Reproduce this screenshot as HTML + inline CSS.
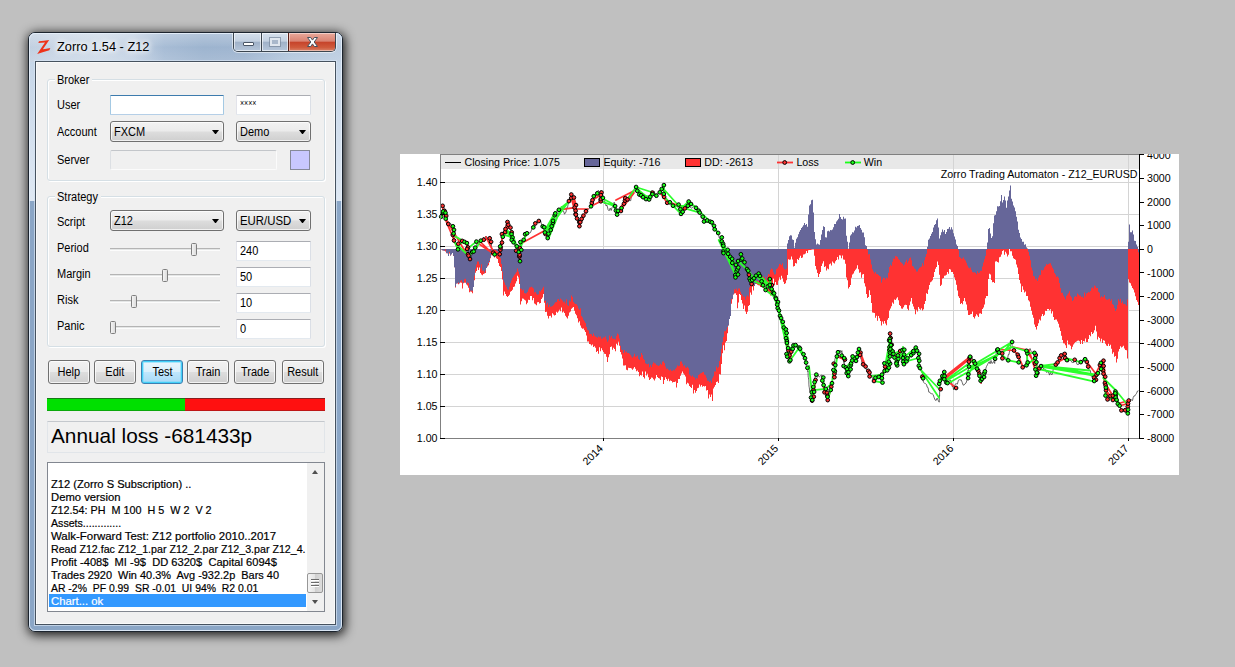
<!DOCTYPE html>
<html><head><meta charset="utf-8"><title>Zorro</title>
<style>
html,body{margin:0;padding:0;}
body{width:1235px;height:667px;background:#c0c0c0;overflow:hidden;position:relative;font-family:"Liberation Sans",sans-serif;}
.abs{position:absolute;}
#shadow{left:28px;top:32px;width:315px;height:600px;border-radius:7px;box-shadow:1px 2px 11px 1px rgba(0,0,0,.9);}
#win{left:28px;top:32px;width:313px;height:598px;border:1px solid #1c242e;border-radius:7px;overflow:hidden;
 background:#8ba6c6;}
#tb{left:29px;top:33px;width:313px;height:29px;border-radius:6px 6px 0 0;background:linear-gradient(90deg,#c2d0e1 0,#c9d6e6 30px,#cedae8 70px,#c3d2e4 105px,#a7bcd5 135px,#9db4cf 175px,#9fb5d0 215px,#b2c6dc 260px,#bccde1 313px);}
#tb:after{content:"";position:absolute;left:0;top:0;right:0;bottom:0;border-radius:6px 6px 0 0;background:linear-gradient(rgba(255,255,255,.25) 0,rgba(255,255,255,.05) 12px,rgba(255,255,255,0) 14px,rgba(255,255,255,.12) 29px);}
#fl,#fr{top:62px;width:6px;height:139px;background:linear-gradient(#c6d6e8,#dfe8f3);}
#fl{left:29px;}#fr{left:336px;}
#winhl{left:29px;top:33px;width:311px;height:596px;border:1px solid rgba(232,241,252,.85);border-radius:6px;}
#clientb{left:34px;top:60px;width:301px;height:564px;border:1px solid rgba(215,228,242,.7);}
#clientc{left:35px;top:61px;width:299px;height:562px;border:1px solid #46525f;background:#f0f0f0;box-shadow:inset 0 0 0 1px #fafafa;}
#client{left:36px;top:62px;width:299px;height:562px;background:#f0f0f0;}
.lbl{position:absolute;font-size:12.5px;color:#000;white-space:pre;transform-origin:0 0;transform:scaleX(.88);line-height:14px;height:14px;}
.gb{position:absolute;border:1px solid #d5dfe5;border-radius:3px;box-shadow:inset 1px 1px 0 #fff, 1px 1px 0 #fff;}
.gbl{position:absolute;background:#f0f0f0;padding:0 2px;}
.edit{position:absolute;background:#fff;border:1px solid #e3e9ef;border-top-color:#abadb3;border-left-color:#e2e3ea;border-right-color:#dbdfe6;box-sizing:border-box;border-radius:1px;}
.edit.focus{border-color:#b5cfe7;border-top-color:#3d7bad;border-left-color:#a4c9e3;border-right-color:#a4c9e3;}
.edit .lbl{left:3px;top:2px;}
.combo{position:absolute;box-sizing:border-box;border:1px solid #707070;border-radius:3px;background:linear-gradient(#f2f2f2 0,#ebebeb 48%,#dddddd 52%,#cfcfcf 100%);box-shadow:inset 0 0 0 1px rgba(255,255,255,.7);}
.combo .lbl{left:3px;top:3px;}
.combo .arr{position:absolute;right:4px;top:8px;width:7px;height:4.4px;background:#000;clip-path:polygon(0 0,100% 0,50% 100%);}
.btn{position:absolute;box-sizing:border-box;border:1px solid #707070;border-radius:3px;height:24px;top:360px;width:42px;background:linear-gradient(#f2f2f2 0,#ebebeb 48%,#dddddd 52%,#cfcfcf 100%);box-shadow:inset 0 0 0 1px rgba(255,255,255,.75);}
.btn.def{border-color:#3c7fb1;background:linear-gradient(#eaf6fd 0,#d9f0fc 48%,#bee6fd 52%,#a7d9f5 100%);box-shadow:inset 0 0 0 1px #42d0f8, inset 0 0 0 2px rgba(120,215,250,.55);}
.btn .lbl{left:0;top:4px;width:100%;text-align:center;transform:none;}
.btn .lbl span{display:inline-block;transform:scaleX(.88);}
.track{position:absolute;left:110px;width:110px;height:1px;background:#b4b4b4;box-shadow:0 1px 0 #e4e6e6,0 2px 0 #fcfcfc;}
.thumb{position:absolute;width:6px;height:13px;box-sizing:border-box;border:1px solid #7f7f7f;border-radius:1.5px;background:linear-gradient(90deg,#f4f4f4,#dcdcdc);}
</style></head>
<body>
<div id="shadow" class="abs"></div>
<div id="win" class="abs"></div>
<div id="tb" class="abs"></div><div id="fl" class="abs"></div><div id="fr" class="abs"></div>
<div id="winhl" class="abs"></div>
<div id="clientb" class="abs"></div><div id="clientc" class="abs"></div>
<svg class="abs" style="left:36px;top:38px" width="17" height="18" viewBox="0 0 17 18"><path d="M3 3.2 C6 2.8 9.5 2.4 13.2 1.9 L6.9 11.3 C9.2 11 11.6 10.5 14.3 10 L13.4 12.3 C9.6 13.4 5.4 14.5 1.2 15.9 L9 4.5 C6.6 4.7 4.2 4.9 2.3 5.1 Z" fill="#ee3219"/></svg>
<div class="abs" style="left:57px;top:39.4px;font-size:12.8px;line-height:15px;white-space:pre;color:#000;text-shadow:0 0 7px #fff,0 0 5px #fff,0 0 9px #fff">Zorro 1.54 - Z12</div>
<div class="abs" style="left:232px;top:33px;width:105px;height:20px;box-sizing:border-box;border:1px solid rgba(255,255,255,.55);border-top:none;border-radius:0 0 6px 6px"></div>
<div class="abs" style="left:233px;top:33px;width:103px;height:19px;box-sizing:border-box;border:1px solid #3c4650;border-top:none;border-radius:0 0 5px 5px;overflow:hidden">
<div class="abs" style="left:0;top:0;width:27px;height:18px;background:linear-gradient(#d6e0ec 0,#c3d0e0 46%,#9fb1c8 50%,#b6c6da 100%);box-shadow:inset 0 0 0 1px rgba(255,255,255,.6)"></div>
<div class="abs" style="left:27px;top:0;width:1px;height:18px;background:#3c4650"></div>
<div class="abs" style="left:28px;top:0;width:26px;height:18px;background:linear-gradient(#d6e0ec 0,#c3d0e0 46%,#9fb1c8 50%,#b6c6da 100%);box-shadow:inset 0 0 0 1px rgba(255,255,255,.6)"></div>
<div class="abs" style="left:54px;top:0;width:1px;height:18px;background:#5a2018"></div>
<div class="abs" style="left:55px;top:0;width:47px;height:18px;background:linear-gradient(#e9a99b 0,#d98372 46%,#c6432a 50%,#cf5a3c 80%,#d9846a 100%);box-shadow:inset 0 0 0 1px rgba(255,255,255,.45)"></div>
<div class="abs" style="left:9px;top:9px;width:11px;height:4px;box-sizing:border-box;border:1px solid #4a5666;background:#fff;border-radius:1px"></div>
<div class="abs" style="left:36px;top:4.5px;width:10px;height:8px;box-sizing:border-box;border:2px solid #dfe6ee;background:#a9b8cb;outline:1px solid rgba(120,135,155,.7)"></div>
<svg class="abs" style="left:72px;top:3px" width="13" height="12" viewBox="0 0 13 12"><path d="M1.5 1.5h3.2l1.8 2.6 1.8-2.6h3.2L8.2 6l3.3 4.5H8.3L6.5 7.9 4.7 10.5H1.5L4.8 6z" fill="#fff" stroke="#47505c" stroke-width="1" stroke-linejoin="round"/></svg>
</div>
<div class="gb" style="left:47px;top:79px;width:276px;height:100px"></div>
<div class="gbl" style="left:55px;top:73px;width:33px;height:14px"></div><div class="lbl" style="left:57px;top:73px;">Broker</div>
<div class="lbl" style="left:57px;top:98px;">User</div>
<div class="lbl" style="left:57px;top:125px;">Account</div>
<div class="lbl" style="left:57px;top:153px;">Server</div>
<div class="edit focus" style="left:110px;top:95px;width:114px;height:20px"></div>
<div class="edit" style="left:236px;top:95px;width:75px;height:20px"><div class="lbl" style="font-size:9px;top:0px;left:3px;transform:scaleX(.78)">××××</div></div>
<div class="combo" style="left:110px;top:121px;width:114px;height:21px"><div class="lbl">FXCM</div><div class="arr"></div></div>
<div class="combo" style="left:236px;top:121px;width:75px;height:21px"><div class="lbl">Demo</div><div class="arr"></div></div>
<div class="edit" style="left:110px;top:150px;width:167px;height:20px;background:#f0f0f0;border-color:#fbfbfb;border-top-color:#c3c6ca;border-left-color:#dcdfe3;border-radius:2px"></div>
<div class="abs" style="left:290px;top:150px;width:20px;height:20px;box-sizing:border-box;border:1px solid #868a9a;background:#c8c8ff"></div>
<div class="gb" style="left:47px;top:196px;width:276px;height:149px"></div>
<div class="gbl" style="left:55px;top:190px;width:42px;height:14px"></div><div class="lbl" style="left:57px;top:190px;">Strategy</div>
<div class="lbl" style="left:57px;top:215px;">Script</div>
<div class="combo" style="left:110px;top:210px;width:114px;height:21px"><div class="lbl">Z12</div><div class="arr"></div></div>
<div class="combo" style="left:236px;top:210px;width:75px;height:21px"><div class="lbl" style="transform:scaleX(.91)">EUR/USD</div><div class="arr"></div></div>
<div class="lbl" style="left:57px;top:241px;">Period</div>
<div class="track" style="top:248px"></div>
<div class="thumb" style="left:191px;top:243px"></div>
<div class="edit" style="left:236px;top:241px;width:75px;height:20px"><div class="lbl">240</div></div>
<div class="lbl" style="left:57px;top:267px;">Margin</div>
<div class="track" style="top:274px"></div>
<div class="thumb" style="left:162px;top:269px"></div>
<div class="edit" style="left:236px;top:267px;width:75px;height:20px"><div class="lbl">50</div></div>
<div class="lbl" style="left:57px;top:293px;">Risk</div>
<div class="track" style="top:300px"></div>
<div class="thumb" style="left:131px;top:295px"></div>
<div class="edit" style="left:236px;top:293px;width:75px;height:20px"><div class="lbl">10</div></div>
<div class="lbl" style="left:57px;top:319px;">Panic</div>
<div class="track" style="top:326px"></div>
<div class="thumb" style="left:110px;top:321px"></div>
<div class="edit" style="left:236px;top:319px;width:75px;height:20px"><div class="lbl">0</div></div>
<div class="btn" style="left:48px"><div class="lbl"><span>Help</span></div></div>
<div class="btn" style="left:94px"><div class="lbl"><span>Edit</span></div></div>
<div class="btn def" style="left:141px"><div class="lbl"><span>Test</span></div></div>
<div class="btn" style="left:187px"><div class="lbl"><span>Train</span></div></div>
<div class="btn" style="left:234px"><div class="lbl"><span>Trade</span></div></div>
<div class="btn" style="left:282px"><div class="lbl"><span>Result</span></div></div>
<div class="abs" style="left:47px;top:398px;width:138px;height:13px;background:#00e000"></div>
<div class="abs" style="left:185px;top:398px;width:140px;height:13px;background:#ff1010"></div>
<div class="abs" style="left:47px;top:398px;width:278px;height:13px;box-sizing:border-box;border-top:1px solid rgba(40,40,40,.55);border-bottom:1px solid rgba(40,40,40,.3)"></div>
<div class="abs" style="left:47px;top:421px;width:278px;height:32px;box-sizing:border-box;border:1px solid #e1e5e9;border-top-color:#c4c8cd;background:#f0f0f0"></div>
<div class="abs" style="left:51px;top:423px;font-size:20.8px;line-height:26px;white-space:pre;color:#000">Annual loss -681433p</div>
<div class="abs" style="left:47px;top:462px;width:278px;height:150px;box-sizing:border-box;border:1px solid #828790;background:#fff"></div>
<div class="abs" style="left:49px;top:464px;width:257px;height:146px;overflow:hidden">
<div style="position:absolute;left:0;top:0px;width:257px;height:13px;color:#000;"><span style="position:absolute;left:1.6px;top:1px;font-size:11.1px;line-height:13px;white-space:pre;-webkit-text-stroke:.2px currentColor;transform-origin:0 0;transform:scaleX(1.000)"></span></div>
<div style="position:absolute;left:0;top:13px;width:257px;height:13px;color:#000;"><span style="position:absolute;left:1.6px;top:1px;font-size:11.1px;line-height:13px;white-space:pre;-webkit-text-stroke:.2px currentColor;transform-origin:0 0;transform:scaleX(1.003)">Z12 (Zorro S Subscription) ..</span></div>
<div style="position:absolute;left:0;top:26px;width:257px;height:13px;color:#000;"><span style="position:absolute;left:1.6px;top:1px;font-size:11.1px;line-height:13px;white-space:pre;-webkit-text-stroke:.2px currentColor;transform-origin:0 0;transform:scaleX(1.015)">Demo version</span></div>
<div style="position:absolute;left:0;top:39px;width:257px;height:13px;color:#000;"><span style="position:absolute;left:1.6px;top:1px;font-size:11.1px;line-height:13px;white-space:pre;-webkit-text-stroke:.2px currentColor;transform-origin:0 0;transform:scaleX(0.972)">Z12.54: PH  M 100  H 5  W 2  V 2</span></div>
<div style="position:absolute;left:0;top:52px;width:257px;height:13px;color:#000;"><span style="position:absolute;left:1.6px;top:1px;font-size:11.1px;line-height:13px;white-space:pre;-webkit-text-stroke:.2px currentColor;transform-origin:0 0;transform:scaleX(0.956)">Assets.............</span></div>
<div style="position:absolute;left:0;top:65px;width:257px;height:13px;color:#000;"><span style="position:absolute;left:1.6px;top:1px;font-size:11.1px;line-height:13px;white-space:pre;-webkit-text-stroke:.2px currentColor;transform-origin:0 0;transform:scaleX(1.031)">Walk-Forward Test: Z12 portfolio 2010..2017</span></div>
<div style="position:absolute;left:0;top:78px;width:257px;height:13px;color:#000;"><span style="position:absolute;left:1.6px;top:1px;font-size:11.1px;line-height:13px;white-space:pre;-webkit-text-stroke:.2px currentColor;transform-origin:0 0;transform:scaleX(0.960)">Read Z12.fac Z12_1.par Z12_2.par Z12_3.par Z12_4.</span></div>
<div style="position:absolute;left:0;top:91px;width:257px;height:13px;color:#000;"><span style="position:absolute;left:1.6px;top:1px;font-size:11.1px;line-height:13px;white-space:pre;-webkit-text-stroke:.2px currentColor;transform-origin:0 0;transform:scaleX(1.001)">Profit -408$  MI -9$  DD 6320$  Capital 6094$</span></div>
<div style="position:absolute;left:0;top:104px;width:257px;height:13px;color:#000;"><span style="position:absolute;left:1.6px;top:1px;font-size:11.1px;line-height:13px;white-space:pre;-webkit-text-stroke:.2px currentColor;transform-origin:0 0;transform:scaleX(0.986)">Trades 2920  Win 40.3%  Avg -932.2p  Bars 40</span></div>
<div style="position:absolute;left:0;top:117px;width:257px;height:13px;color:#000;"><span style="position:absolute;left:1.6px;top:1px;font-size:11.1px;line-height:13px;white-space:pre;-webkit-text-stroke:.2px currentColor;transform-origin:0 0;transform:scaleX(0.939)">AR -2%  PF 0.99  SR -0.01  UI 94%  R2 0.01</span></div>
<div style="position:absolute;left:0;top:130px;width:257px;height:13px;background:#3399ff;color:#fff;"><span style="position:absolute;left:1.6px;top:1px;font-size:11.1px;line-height:13px;white-space:pre;-webkit-text-stroke:.2px currentColor;transform-origin:0 0;transform:scaleX(1.020)">Chart... ok</span></div>
</div>
<div class="abs" style="left:307px;top:463px;width:17px;height:148px;background:#f0f0f0"></div>
<div class="abs" style="left:312px;top:470px;width:0;height:0;border-left:3.5px solid transparent;border-right:3.5px solid transparent;border-bottom:4px solid #505050"></div>
<div class="abs" style="left:312px;top:600px;width:0;height:0;border-left:3.5px solid transparent;border-right:3.5px solid transparent;border-top:4px solid #505050"></div>
<div class="abs" style="left:307px;top:573px;width:16px;height:20px;box-sizing:border-box;border:1px solid #979797;border-radius:2px;background:linear-gradient(90deg,#f5f5f5,#e2e2e2 50%,#cfcfcf 52%,#dcdcdc)"></div>
<div class="abs" style="left:311px;top:579px;width:8px;height:1px;background:#6a6a6a;box-shadow:0 1px 0 #fff,0 3px 0 #6a6a6a,0 4px 0 #fff,0 6px 0 #6a6a6a,0 7px 0 #fff"></div>
<svg class="abs" style="left:400px;top:154px;will-change:opacity" width="779" height="321" viewBox="400 154 779 321" font-family="Liberation Sans, sans-serif" font-size="10.67">
<rect x="400" y="154" width="779" height="321" fill="#fff"/>
<rect x="441" y="155" width="698" height="14" fill="#e8e8e8"/>
<path d="M441 182.5H1139M441 214.5H1139M441 246.5H1139M441 278.5H1139M441 310.5H1139M441 342.5H1139M441 374.5H1139M441 406.5H1139M603.5 155V438M778.5 155V438M953.5 155V438M1128.5 155V438" stroke="#d4d4d4" stroke-width="1" fill="none"/>
<path d="M440 154.5H1139" stroke="#808080" stroke-width="1"/>
<path d="M441 249V249.4H442V250.3H443V250.6H444V250.8H445V251.6H446V253.2H447V253.2H448V256H449V253.6H450V255.6H451V254.3H452V253H453V256H454V267.3H455V287.4H456V283.4H457V283.3H458V284.3H459V283.3H460V282.4H461V282.8H462V288.5H463V283.2H464V282.8H465V282.8H466V284.3H467V285.5H468V287.8H469V292.2H470V291.4H471V291.8H472V293.3H473V286.9H474V280.3H475V272.7H476V270.9H477V267.4H478V270H479V267.4H480V273H481V274.5H482V275.3H483V274H484V273.4H485V273H486V268.1H487V266.5H488V265.3H489V262.2H490V258.2H491V255.2H492V255.3H493V253.7H494V257.4H495V255.7H496V258.2H497V258.9H498V263.1H499V266H500V267H501V271.1H502V279.6H503V295.6H504V291.4H505V294.1H506V295.9H507V296.9H508V296.1H509V294.8H510V291.8H511V291.1H512V289.8H513V287H514V286.4H515V283.4H516V281.3H517V275.7H518V277.4H519V284.1H520V304.6H521V301.2H522V298.4H523V298.7H524V299.8H525V300.4H526V304.3H527V302.7H528V299.7H529V300.1H530V295.9H531V296H532V300.2H533V298.1H534V303.6H535V304.3H536V305.2H537V302.2H538V302H539V303.6H540V302.9H541V298.9H542V297.4H543V293.9H544V302.7H545V311.9H546V311.7H547V315.8H548V318.5H549V315.9H550V315.8H551V317.6H552V313.3H553V314.6H554V315.4H555V315.1H556V311.8H557V312.8H558V311.5H559V309.8H560V311.2H561V307.5H562V312.5H563V311.6H564V313H565V315.7H566V317.3H567V318.6H568V315.7H569V312.4H570V311.5H571V308.8H572V307.7H573V307H574V310.8H575V313.8H576V315.3H577V318.3H578V322.4H579V321.3H580V325.5H581V327.7H582V328.8H583V328.6H584V330.2H585V332H586V335.4H587V341.4H588V341.6H589V343.9H590V344.3H591V345.4H592V344.5H593V346.9H594V346.3H595V347.7H596V351.9H597V350.9H598V353.8H599V347.3H600V351.2H601V348.3H602V350.3H603V351.9H604V353.7H605V354.1H606V356.8H607V362H608V357.2H609V354.3H610V347.1H611V346.5H612V349.8H613V347.8H614V349H615V351.2H616V343.7H617V345.2H618V341.8H619V345.7H620V352.1H621V354.4H622V358.6H623V365.4H624V365.6H625V365.3H626V369.7H627V370.2H628V367.7H629V368.1H630V368.1H631V368.4H632V369.8H633V368.4H634V367H635V368.8H636V371.2H637V370.4H638V372H639V376.3H640V375H641V375.6H642V371.6H643V376.9H644V378.6H645V371.5H646V375.5H647V373.7H648V377.3H649V380H650V379.1H651V377.4H652V377.7H653V379.2H654V380.6H655V378.6H656V375.1H657V376.9H658V377.9H659V378.6H660V380H661V376.6H662V377H663V384.1H664V379.9H665V377.3H666V379.1H667V380.7H668V378.7H669V381.3H670V380.5H671V381.1H672V382.6H673V382H674V382H675V381.6H676V387.6H677V382.9H678V378.9H679V379H680V375.8H681V373.4H682V371.5H683V373.4H684V374.7H685V376.6H686V384.2H687V382.7H688V383.6H689V385.9H690V386.9H691V387.9H692V384.7H693V393.5H694V389.9H695V392.7H696V391.1H697V388.3H698V387.8H699V384.4H700V386.5H701V385H702V386.8H703V386H704V386.5H705V386.1H706V390.6H707V390.1H708V398.4H709V394.6H710V397.1H711V394.4H712V400.9H713V388.5H714V386.8H715V385H716V382.1H717V381.5H718V383H719V374H720V374.5H721V364H722V353.2H723V345.2H724V350.3H725V342.6H726V341H727V333.3H728V325.4H729V319.1H730V316.1H731V303.8H732V299.3H733V294.4H734V293.5H735V293.3H736V294.9H737V308.3H738V302.5H739V293.9H740V295H741V300H742V303.5H743V309.1H744V305.6H745V311.6H746V313.9H747V311.7H748V306H749V305H750V292.4H751V294.7H752V286.4H753V290.4H754V285.9H755V283.9H756V284.1H757V284.7H758V285.3H759V285.6H760V286.9H761V286.6H762V284.1H763V288.3H764V284.7H765V284.4H766V285.7H767V287.6H768V292.2H769V292.8H770V295.5H771V289.6H772V285.3H773V278.4H774V285.1H775V282.1H776V284.8H777V285H778V280.5H779V277.6H780V279.8H781V275.8H782V278.2H783V281.8H784V284.1H785V283.2H786V280.2H787V275H788V259.2H789V259.8H790V259.4H791V256.6H792V259.4H793V266.5H794V265.9H795V263H796V263.6H797V258.9H798V259.9H799V257.8H800V255.7H801V257.9H802V257.4H803V254.4H804V254.2H805V253.6H806V251H807V253.1H808V250.3H809V250.1H810V249.9H811V249.7H812V249.6H813V249.4H814V255.8H815V265.9H816V269.6H817V273H818V276.9H819V273.9H820V271.9H821V265.9H822V263.6H823V261.3H824V266.9H825V266.3H826V270.6H827V268.4H828V269.3H829V264.2H830V263.4H831V265.5H832V261.5H833V262.7H834V263.5H835V261.3H836V259.9H837V257.1H838V259.5H839V255.3H840V255.5H841V258.3H842V255.5H843V259.4H844V259.7H845V263.8H846V277.5H847V280.2H848V288.5H849V287.1H850V284.9H851V277.8H852V274.6H853V273.4H854V271.3H855V269.7H856V268.5H857V265.2H858V269.3H859V272.7H860V272.2H861V277.7H862V274.5H863V274.1H864V283.2H865V286.6H866V293.9H867V298H868V297.1H869V290.3H870V294.9H871V303H872V312.5H873V312.8H874V313H875V317.8H876V315.7H877V320.8H878V316H879V318.3H880V320.9H881V325.4H882V321.5H883V323.7H884V321.1H885V323.4H886V325.2H887V319.7H888V318H889V310.6H890V308.4H891V306.3H892V302.4H893V303.7H894V299.6H895V300.1H896V298.4H897V297.3H898V300.2H899V305.1H900V306.1H901V308.6H902V308.8H903V307.2H904V305.2H905V304.7H906V305H907V308.7H908V310.2H909V305.3H910V301.5H911V297.9H912V303.7H913V306.5H914V309.3H915V314.3H916V309.7H917V311.5H918V306.9H919V308.7H920V309.8H921V308.2H922V310.6H923V309.3H924V304H925V301H926V293.3H927V294.1H928V289.6H929V285H930V282.3H931V281.5H932V280.2H933V277.1H934V272H935V268.8H936V266.9H937V261.5H938V264.9H939V274.7H940V286H941V284.7H942V278.6H943V278.1H944V275.7H945V275.4H946V274.7H947V272.1H948V273.7H949V268.9H950V269.6H951V272.1H952V272.1H953V274H954V277.5H955V280.3H956V284.8H957V290.4H958V296.3H959V298H960V304.1H961V303H962V304.2H963V300.9H964V298H965V301.5H966V304.4H967V310.2H968V315.1H969V314.9H970V314.3H971V314.1H972V311.5H973V317H974V318.6H975V316.3H976V314.3H977V315.4H978V316.9H979V313.4H980V313.3H981V314H982V308.9H983V307.6H984V304.4H985V298.2H986V296.1H987V295.9H988V279.1H989V273.8H990V274.5H991V279.9H992V282.2H993V282H994V282.9H995V261.5H996V261.2H997V262.1H998V262.6H999V257.3H1000V256.7H1001V254.4H1002V251.1H1003V250.3H1004V254.8H1005V251.7H1006V253.5H1007V256.4H1008V254.7H1009V249.1H1010V251.2H1011V251.3H1012V255.8H1013V258.3H1014V259.1H1015V259.7H1016V264.4H1017V267.4H1018V274.1H1019V279.9H1020V283.4H1021V292.1H1022V286.2H1023V289.8H1024V292.6H1025V291.5H1026V296.1H1027V296H1028V300.2H1029V301.6H1030V306.7H1031V310.7H1032V314.7H1033V317.7H1034V324.6H1035V326.9H1036V329.4H1037V325.9H1038V323.3H1039V319.4H1040V320.6H1041V316.3H1042V314.1H1043V316H1044V314.7H1045V310.8H1046V311H1047V309.1H1048V309.1H1049V310.2H1050V309.3H1051V313.4H1052V311.2H1053V316.9H1054V320.1H1055V319.4H1056V319.5H1057V321.6H1058V323.8H1059V327.5H1060V330.9H1061V335.8H1062V340H1063V343.3H1064V343.6H1065V345.3H1066V347.9H1067V340.5H1068V344.6H1069V344.6H1070V345.7H1071V349.3H1072V346.8H1073V344.6H1074V343.3H1075V342.1H1076V341.6H1077V340.7H1078V340.5H1079V341.3H1080V343.9H1081V340.1H1082V344.1H1083V341H1084V341.5H1085V338.4H1086V341.9H1087V342H1088V338.9H1089V334.9H1090V336.3H1091V331.9H1092V334.1H1093V332.7H1094V330.3H1095V325.7H1096V331.6H1097V339.4H1098V336.7H1099V338.1H1100V341.5H1101V338.8H1102V343H1103V340.3H1104V340.8H1105V343.8H1106V345.4H1107V346.1H1108V343.8H1109V346H1110V344.7H1111V348.8H1112V353.7H1113V352.2H1114V356.8H1115V356H1116V362.4H1117V358.7H1118V351.6H1119V349H1120V346.3H1121V347.6H1122V346.8H1123V345.7H1124V348.6H1125V350.1H1126V350.3H1127V358.6H1128V279.3H1129V282.6H1130V283.2H1131V285.7H1132V288H1133V289.6H1134V292.4H1135V296.2H1136V299.9H1137V301.8H1138V305H1139V249Z" fill="#ff3232"/>
<path d="M441 249V249.4H442V250.3H443V250.6H444V250.8H445V249.3H446V252.9H447V253.2H448V256H449V251.9H450V255.6H451V254.3H452V253H453V255.7H454V267.3H455V286.4H456V283.4H457V283.3H458V282.6H459V283.3H460V281.1H461V280.1H462V282.2H463V282.9H464V279.3H465V278.7H466V284.3H467V282.6H468V282.9H469V288H470V290.8H471V290.5H472V290.8H473V286.9H474V275.5H475V268.8H476V264.5H477V261.5H478V261.6H479V264.5H480V268.4H481V264.2H482V270.7H483V270.4H484V272.5H485V270.6H486V268.1H487V265.4H488V262.9H489V261H490V257.5H491V253.1H492V250.5H493V249.8H494V249.9H495V249.7H496V250.7H497V251.4H498V254.6H499V256.4H500V258.3H501V263.9H502V271.4H503V280.2H504V282.4H505V284.9H506V286.8H507V289.3H508V289.7H509V286.7H510V283H511V280.4H512V278.1H513V276.4H514V274.7H515V273.6H516V272H517V268.6H518V271.5H519V274.6H520V288.5H521V288.7H522V290.5H523V289.6H524V292.9H525V293.6H526V293.3H527V292.1H528V289.5H529V287.6H530V287.2H531V286.8H532V287.4H533V288.5H534V292.6H535V292.1H536V293.7H537V294.7H538V294.2H539V291.1H540V291.5H541V290.1H542V288.6H543V286.7H544V300.9H545V300.6H546V304.7H547V302.7H548V307H549V304.8H550V306.7H551V306.6H552V306.1H553V305.1H554V303.4H555V302.3H556V302H557V299.5H558V298.9H559V301.1H560V298.4H561V299.5H562V300.5H563V302.3H564V301.4H565V303.5H566V299.2H567V304.9H568V306.1H569V300.4H570V301.4H571V295.6H572V297.1H573V302H574V303.3H575V304H576V304.2H577V305.8H578V308.6H579V309.7H580V308.3H581V316.1H582V317.6H583V319.8H584V321.3H585V322.9H586V326.9H587V329.8H588V330.4H589V333.7H590V334.1H591V334.3H592V336H593V333.5H594V335.6H595V336.5H596V337.1H597V337.8H598V336.4H599V337.2H600V336.4H601V338.7H602V338.6H603V337.2H604V337.6H605V336.2H606V339.3H607V341.8H608V340.3H609V335.6H610V337.6H611V335.9H612V338.5H613V338.7H614V338.7H615V339.4H616V336H617V333.5H618V334.6H619V338.6H620V345.7H621V349.5H622V350.1H623V352.9H624V350.1H625V352.3H626V351.4H627V352.9H628V353.1H629V353.7H630V354.7H631V356.6H632V357.8H633V356.3H634V353.8H635V356.8H636V356.4H637V355.6H638V358.9H639V360.1H640V356.9H641V353H642V354.9H643V358.8H644V360H645V363.2H646V364H647V364.2H648V363.7H649V367.3H650V365H651V367.1H652V364.3H653V362.3H654V363.3H655V363.4H656V365H657V365.2H658V366H659V365.3H660V363.8H661V364.8H662V361.7H663V361.2H664V363H665V366.5H666V368.8H667V368.4H668V369.8H669V370.6H670V369.6H671V370.7H672V370.7H673V369.7H674V370.5H675V368.8H676V367.4H677V365.3H678V366.3H679V365.7H680V361.5H681V361.5H682V363.7H683V366.2H684V365.2H685V367.6H686V367.8H687V366.7H688V368.3H689V374.5H690V375.4H691V376.6H692V375.5H693V377.1H694V377.4H695V379.6H696V378H697V378.6H698V375.1H699V374.3H700V373.5H701V373H702V372.2H703V372.1H704V374.6H705V375.3H706V377.8H707V380.7H708V380.7H709V382H710V380.7H711V382.7H712V378.3H713V376.2H714V371.4H715V371.4H716V366.6H717V368.2H718V367.1H719V361H720V356.5H721V349H722V342.2H723V337H724V331.3H725V331.2H726V329.6H727V327H728V325.3H729V319.1H730V316.1H731V299.1H732V298.8H733V294.3H734V289H735V289.7H736V288.6H737V290.7H738V288.5H739V288.6H740V291.8H741V294H742V295.2H743V296.7H744V296.4H745V299.6H746V296.5H747V295.3H748V296.6H749V287.4H750V282.9H751V283.9H752V285.5H753V284H754V285.9H755V283.9H756V281.5H757V280.7H758V281.2H759V281H760V281.7H761V281H762V277H763V276.3H764V279H765V277.3H766V281.8H767V276.7H768V274.1H769V274.5H770V269.7H771V268.5H772V269.2H773V272.3H774V274.4H775V274.3H776V269.1H777V268.3H778V266.6H779V264.1H780V264.3H781V265H782V263.3H783V267.6H784V269.2H785V269.5H786V268.6H787V243.4H788V240H789V236.2H790V235.3H791V235.6H792V239.6H793V240H794V247.7H795V242.8H796V238.8H797V237.2H798V234.3H799V231.7H800V230H801V228H802V226.7H803V225.3H804V223H805V224.9H806V224.1H807V226.7H808V214.4H809V205.5H810V204.2H811V200.3H812V199.8H813V212.6H814V232H815V239.3H816V244.5H817V243.5H818V244.2H819V244.8H820V240H821V234.5H822V230.1H823V226.3H824V226.9H825V237.2H826V237.5H827V231.3H828V230.8H829V231.6H830V230.1H831V230.2H832V229.4H833V227.2H834V223.9H835V223.9H836V221.4H837V220.2H838V218.8H839V214H840V217H841V219.1H842V219.6H843V216.7H844V218.8H845V218.5H846V235.7H847V241.7H848V248.7H849V242.4H850V235.4H851V234.2H852V232.3H853V232.6H854V230.6H855V226.8H856V227.4H857V225.9H858V225.7H859V225.1H860V227.9H861V229.8H862V232.5H863V232.5H864V237.2H865V245.2H866V246H867V249.7H868V254.6H869V253.9H870V259.6H871V264.6H872V269.3H873V271.6H874V273.3H875V272.1H876V273.9H877V273.9H878V274.9H879V276H880V276.6H881V282.4H882V279.4H883V277.7H884V278.1H885V279.5H886V277.6H887V278.2H888V272.8H889V267H890V264.8H891V265.7H892V261.7H893V258.6H894V258.8H895V256.1H896V256.2H897V256.9H898V259H899V260.1H900V262.1H901V262.7H902V263.8H903V265.6H904V264.4H905V262.1H906V259.7H907V262.7H908V260.7H909V258.3H910V257.6H911V260.3H912V266.1H913V266.6H914V268.5H915V269.2H916V271.4H917V271.6H918V269.2H919V267.7H920V267.3H921V266.5H922V263.3H923V265.5H924V260.2H925V257.1H926V253.9H927V246.8H928V239.8H929V238.5H930V235.9H931V233.8H932V232.1H933V227.6H934V224.9H935V224H936V220.2H937V218.4H938V227.6H939V238.4H940V235.2H941V232.2H942V229.4H943V231.8H944V230H945V234.1H946V232H947V229H948V228.7H949V226.9H950V229.5H951V227.2H952V229.5H953V233.3H954V236.5H955V239.6H956V244.5H957V245.9H958V250.2H959V257H960V257.8H961V258.7H962V258.5H963V257.2H964V259.2H965V260.5H966V262.8H967V265.5H968V267.5H969V268.2H970V267.5H971V270.1H972V272H973V272.6H974V272.3H975V273.1H976V274.2H977V271.3H978V273H979V272.4H980V270.8H981V270.8H982V266.6H983V262.4H984V259.3H985V255.9H986V250H987V242.5H988V229H989V228.1H990V233.6H991V238.1H992V236.3H993V223.3H994V215.6H995V214.9H996V211.2H997V206.3H998V206.4H999V206H1000V201.2H1001V195.1H1002V202.4H1003V200H1004V196.4H1005V200.5H1006V207.8H1007V200.4H1008V196.4H1009V190.6H1010V185.4H1011V198.7H1012V201.4H1013V205.5H1014V207.5H1015V211.3H1016V216.7H1017V221.6H1018V229.8H1019V232.9H1020V237.6H1021V238.9H1022V241.8H1023V241.7H1024V244.7H1025V244.3H1026V247.2H1027V248.5H1028V251.8H1029V255.7H1030V260.3H1031V267.4H1032V270.5H1033V276.1H1034V276.6H1035V279.2H1036V278.6H1037V280.9H1038V277.6H1039V275.3H1040V275.1H1041V269.9H1042V270.6H1043V269.8H1044V267.3H1045V266H1046V263.9H1047V264.8H1048V263.9H1049V263.5H1050V263.2H1051V265.6H1052V267.7H1053V269.5H1054V273.1H1055V274.6H1056V276.9H1057V276.3H1058V277.7H1059V283.1H1060V288H1061V292.8H1062V292.8H1063V295.6H1064V297.3H1065V299.3H1066V295.9H1067V294.5H1068V293.3H1069V291.3H1070V295.7H1071V297.2H1072V301H1073V299.7H1074V297.1H1075V295.9H1076V296.8H1077V293.4H1078V294.4H1079V295.5H1080V295.6H1081V297.1H1082V296.4H1083V297.9H1084V292.4H1085V296.2H1086V293.4H1087V293.1H1088V291.9H1089V292.6H1090V290.9H1091V288.2H1092V287.3H1093V288.6H1094V285.4H1095V286.3H1096V287.9H1097V288H1098V291.7H1099V292.7H1100V297.6H1101V296.2H1102V297.2H1103V296.8H1104V295.1H1105V298.6H1106V299.5H1107V299.7H1108V299.3H1109V298.7H1110V301.1H1111V299.3H1112V303.9H1113V305H1114V308H1115V310.9H1116V309H1117V305H1118V299.2H1119V301.2H1120V298.7H1121V303.1H1122V301.6H1123V303.8H1124V304H1125V304.6H1126V305.7H1127V299.6H1128V241.8H1129V224.4H1130V232.3H1131V232.3H1132V230.5H1133V234.6H1134V240.7H1135V241H1136V244.5H1137V246.7H1138V252.2H1139V249Z" fill="#666699"/>
<polyline points="441.5,216.5 441.9,213.9 442.4,210.9 442.8,212.8 443.3,208.6 443.7,206.7 444.2,207.3 444.7,208.5 445.2,212.7 445.6,215.2 445.9,216.5 446.3,216.2 446.7,220.2 447.8,221.3 448.8,223.6 449.9,223.9 451,223.8 452.1,226.1 453.1,227.8 454.2,228.5 454,231 453.9,230.7 453.7,235.5 453.5,236 454.1,239.6 454.6,240.4 455.1,242.6 455.7,242.7 456.2,243.9 456.7,248 457.2,248 458.1,244.7 459.1,243 460.1,242.8 461,240.5 462,242.8 462.9,239.7 463.9,240.8 464.8,240.6 465.8,242.9 466.7,242.1 467.7,244.2 467.9,245 468.1,249.6 468.3,251 468.6,254.7 468.8,254.5 469,257.8 469.2,259.2 470,256.1 470.7,259.2 471.5,256.2 472.2,253 473,252.1 473.7,250.2 474.6,248.4 475.6,248.4 476.6,244.5 477.5,242.7 478.5,244.6 479.5,242.8 480.5,242 481.5,239.6 482.6,241.1 483.6,237.1 484.7,239.4 485.7,236 486.5,237 487.2,237.3 488,239.7 488.8,239.9 489.5,236 489.9,237.2 490.2,239.6 490.6,241.3 491,244.7 491.3,243.9 491.7,248 492.4,249.3 493.2,250.3 493.9,255.1 494.7,255.5 495.6,253 496.5,255.4 497.4,253.5 498.3,254.1 499.2,254 499.5,252.5 499.8,251.3 500.1,247 500.4,245.7 500.7,245 501.2,241.2 501.6,242.8 502.1,237.2 502.5,235 503,234.5 503.6,232.9 504.1,231.5 504.6,231.1 505.2,227.7 506,224 506.7,223.1 507.5,222.5 508.2,222.5 509,225.5 509.7,227.9 510.5,229.3 511.2,231.5 511.4,232.9 511.5,236.8 511.7,237.6 511.8,240.3 512,240.5 512.9,243.6 513.8,241.6 514.7,245.6 515.6,244.3 516.5,245.7 516.9,245.8 517.4,251.6 517.8,250.1 518.2,251.7 518.6,255 519.1,257 519.5,260 519.7,260 519.9,257.5 520.1,253.5 520.2,251.9 520.4,251.2 520.6,249 520.8,246.2 521,243.5 522,242.1 523,238.8 524,239 524.9,236.2 525.9,236.3 526.8,234.3 527.7,232.2 528.7,233 529.6,232.9 530.5,232.6 531.5,230 532.4,227.4 533.3,225.7 534.2,228.1 535.1,225.5 536,224 536.9,221.5 537.9,222.6 538.8,219.5 539.7,219.5 540.5,220.3 541.2,222.9 542,225.6 542.7,228.3 543.5,227.6 544.2,231.5 545.1,233.9 546,234.7 546.9,235.4 547.8,237.6 548.7,238.2 549.1,237.5 549.5,231.9 549.8,231.9 550.2,230 551,229.1 551.7,227.5 552.5,225.5 553.2,223.2 553.6,219.9 554,221.5 554.4,218.9 554.7,214.6 555.1,213.6 555.5,212 556.5,213.1 557.5,208.9 558.5,209 559.5,210.5 560.5,209.3 561.5,206.7 562.2,207.4 563,211.5 563.8,211.7 564.5,214.2 565.2,213.2 566,212 566.8,207.5 567.5,207.5 568.2,204.1 569,202 569.8,200.1 570.5,196.9 571.2,195.2 572,194.7 572.7,195.3 573.5,196.4 574.2,197.7 574.5,197.8 574.7,202.1 575,205.6 575.2,206 575.5,207.1 575.7,209.7 576.1,212.6 576.5,213.4 576.8,214.2 577.2,217.5 577.6,217.5 578,222.3 578.3,222 578.7,225.5 579.5,223.1 580.2,223.8 581,221 581.7,218 582.7,218.2 583.6,216.1 584.6,214.7 585.6,213.8 586.6,213.6 587.5,208.9 588.5,209 589.4,208.5 590.4,204.7 591.3,202.8 592.2,202.2 592.8,201.9 593.4,199.3 593.9,198.7 594.5,195.5 595.5,196.4 596.4,194.4 597.4,191.9 598.3,190.3 599.3,191.9 600.2,191.9 601.2,190.2 601,191.2 600.7,192.3 600.5,194 600.2,196.8 600,201.1 599.7,202.2 600.7,198.9 601.7,198.8 602.7,197.8 603.7,197.7 604.3,200.7 604.9,204 605.4,201.8 606,206 607,205.2 608.1,209.7 609.1,210.8 610.2,208.1 611.2,210.5 612,207.7 612.7,206.4 613.5,203.5 614.2,202.2 614.7,204 615.2,206.4 615.7,207.5 616.2,208.8 616.7,211 617.2,215 618.1,211.9 619,209.9 619.9,210.6 620.8,209.2 621.7,206.7 622.5,203.9 623.2,204.4 624,202.3 624.7,198.8 625.5,197.7 626.5,198.3 627.6,197.5 628.6,201.4 629.7,200.4 630.7,200.7 631.3,196.8 631.9,195.3 632.5,195.7 633.1,192.4 633.7,191 634.6,191 635.5,187.9 636.3,189.5 637.2,187.2 637.8,190.4 638.4,189.2 639,193.3 639.6,193.4 640.2,196.7 641.2,197.8 642.3,198.4 643.4,198.5 644.4,196.2 645.5,195.7 646.5,197.7 647.2,199.6 648,200 649,198.8 650.1,195.4 651.1,194.1 652.2,194.4 653.2,192.5 654.2,191.5 655.1,194.6 656,193.6 657,195.5 657.9,193.1 658.9,192.5 659.8,191.7 660.7,190.2 661.6,190.2 662.5,186.1 663.3,188.2 664.2,186.2 664.3,186.9 664.4,189.1 664.5,192.6 664.5,194.7 664.6,196.3 664.7,197.7 665.6,200.4 666.5,198.3 667.3,199.7 668.2,201.5 669.3,203.1 670.3,202.1 671.4,202.5 672.4,203.7 673.5,205.7 674.5,206.8 675.5,206.9 676.4,206.4 677.4,207.3 678.4,205.2 679,208.5 679.7,208.4 680.4,210.4 681,213.2 681.9,213 682.8,209 683.7,210.3 684.6,206.8 685.5,207.5 686.5,204.2 687.5,204.9 688.5,202 689.5,202.2 690.2,206.1 690.8,207.9 691.5,208.2 692.5,207.7 693.6,206.1 694.6,205.4 695.7,206.8 696.7,206.4 697.5,208.3 698.2,209.3 699,212.7 699.7,213.5 700.7,215.3 701.6,218.1 702.5,216.8 703.5,220.2 704.5,218.4 705.5,219.9 706.5,220.4 707.5,219.4 708.5,221.4 709.5,220.7 710.2,220.3 711,221.6 711.7,223.2 712.6,224.8 713.5,227.5 714.3,229.5 715.2,230 716.3,230.9 717.4,232.8 718.5,234.5 719.2,237.6 720,238.9 720.7,238.2 721.1,240.5 721.5,240.1 721.8,243.4 722.2,246 722.6,247.2 722.9,247.9 723.2,248.6 723.4,254.4 723.7,254 724.6,254.7 725.5,250.1 726.5,250.5 727.4,249.5 728.2,252 728.9,252.6 729.7,255.5 730.8,255.7 731.8,260.8 732.9,263 733.9,263.6 735,266 735.3,266.1 735.6,269.4 735.9,270 736.1,275.7 736.4,273.6 736.7,277.5 736.9,274.7 737.1,274.8 737.4,270.1 737.6,268.1 737.8,266 738,266 738.6,262.3 739.3,261.7 739.9,260.9 740.6,255.7 741.2,255 742,255.7 742.7,260.4 743.5,261 744.2,262.7 745,265.5 745.7,265.8 746.5,268.4 747.2,273.6 748,271.8 748.7,274.4 749.5,278.6 750.2,281.2 751,283.3 751.7,283.5 752.7,281.8 753.6,282.3 754.6,279.1 755.6,276.1 756.6,275.3 757.5,274.8 758.5,272.2 759.2,275.3 760,274.7 760.8,277.1 761.5,280.5 762.4,284.6 763.3,283 764.2,288.2 765.1,288.2 766,291 766.9,287.8 767.8,285.7 768.7,284.6 769.6,284.8 770.5,280.5 770.9,280.8 771.2,285.8 771.6,285.3 772,286.5 772.3,290.9 772.7,291.7 773.7,293.1 774.6,294.5 775.5,297.6 776.5,300 776.9,303.2 777.4,305.2 777.8,305.7 778.3,305 778.7,309 779,312.2 779.2,313.5 779.5,315 780.4,318.6 781.4,320.7 782.3,319.9 783.2,322.5 783.7,326 784.1,327.7 784.6,327.2 785.1,329.6 785.5,331.5 786,334 786.2,335.5 786.4,337.7 786.5,338.7 786.7,341.3 786.9,346.5 787.1,346.8 787.3,348.6 787.5,351.8 787.7,355.1 787.8,356.7 788,356.6 788.2,361.8 788.4,362.1 789,361.4 789.7,360.1 790.3,356.9 791,354.9 791.6,353.1 792.2,348.6 792.9,348.3 793.5,345.5 794.6,345.2 795.6,347.4 796.7,344.5 797.8,346.5 798.8,345.9 799.9,346.8 800.8,350.3 801.6,350.4 802.5,354.7 803.3,356.9 804.1,359.1 805,359.6 805.6,359.9 806.2,365.3 806.9,366.4 807.5,367.2 807.7,370 807.9,372 808,371.3 808.2,377 808.4,377.6 808.6,379.2 808.8,380.8 808.9,384.8 809.1,386.8 809.3,387.6 809.8,391.4 810.2,390.7 810.7,393.5 811.2,395.2 811.7,396.8 812.1,400 812.6,402.9 812.8,398.8 813,400.1 813.2,395.5 813.4,392.8 813.6,390.7 813.8,391.6 814,387.1 814.2,386.2 814.4,383.9 814.6,383.6 814.8,382.2 815,377.3 815.2,376.1 816.2,376.5 817.3,377.4 818.4,375.3 819.4,377 820.5,376 821.5,374.8 822,376 822.5,380.5 823.1,381.2 823.6,381.2 824.1,385 824.6,387.6 825,390.8 825.5,391.6 826,393.7 826.5,395.6 826.9,399.8 827.4,400.3 827.9,399.1 828.4,395.2 828.9,394 829.4,392.1 829.9,392.8 830.4,388.9 831,387.7 831.5,383.2 832.1,384.7 832.6,378.8 833.2,379.2 833.7,376.5 834.3,374.8 834.4,373.6 834.4,370.1 834.5,366.5 834.6,366.2 834.7,365.4 834.7,363 834.8,359.6 835.6,357 836.5,354.5 837.3,354.9 838.1,351.9 839,352.9 840,350 841,352.6 841.9,350.6 842.3,354.8 842.6,354.3 843,356.1 843.4,359.5 843.8,362.5 844.1,361.3 844.5,364.6 845.1,365.6 845.8,367.7 846.4,371.4 847,370.9 847.7,374.4 848.3,376.1 848.7,374.1 849.1,372.8 849.4,368.4 849.8,369.9 850.2,368.1 850.6,364.1 851,363.1 851.3,358.4 851.7,359.5 852.1,355.7 853,356.9 854,358.8 855,360.2 855.9,359.6 856.6,357 857.2,357.4 857.9,352.2 858.5,349.3 859.2,349.4 859.6,351.4 860.1,355.2 860.5,357.2 861,359.4 861.4,359.4 861.9,363.3 862.3,363.4 863.3,364.9 864.3,364.4 865.4,367.8 866.4,369.8 867.4,369.7 868.5,371.3 869.5,374 870.6,374.4 871.7,376.4 872.7,378.9 873.8,381.2 874.8,380.2 875.8,379 876.9,376.3 877.9,374.9 878.9,376.1 879.7,377.1 880.6,380.5 881.4,381.2 881.9,380.2 882.4,375.8 882.8,373.7 883.3,372.8 883.8,369.1 884.2,368.9 884.7,368.1 885.2,364.2 886,364.7 886.7,368.1 887.5,369.5 887.9,368.7 888.4,367 888.8,365 889.3,363.2 889.7,360.5 889.8,357.4 889.8,357.7 889.9,356 890,350 890,351.8 890.1,347.5 890.2,343.8 890.2,341.6 890.3,342.7 890.4,340 890.4,335.6 890.5,335 890.6,337 890.8,339.9 891,343.6 891.1,342.9 891.2,346.9 891.4,346.8 891.6,348.7 891.7,352.2 892.8,352.5 893.9,355.3 895,357.5 895.3,359.8 895.6,360.2 895.9,361.4 896.2,363.5 896.5,366.5 896.9,362.6 897.4,361.1 897.8,359.6 898.2,358.3 898.6,354.9 899.1,354.2 899.5,352.2 900.4,350.6 901.4,351.5 902.3,348 903.2,346.7 903.3,350.8 903.5,350.9 903.6,351.9 903.8,355.9 903.9,356.1 904,358.4 904.2,360.1 904.3,364.2 905.1,363.8 906,363.7 906.9,359.9 907.7,359 908.6,357.8 909.5,357.5 910.4,356.5 911.3,357.4 912.2,356 912.9,353.7 913.5,350.8 914.2,352 914.8,348.9 915.5,346.7 916.4,346.1 917.3,351.4 918.2,351.5 918.3,354.6 918.5,355 918.6,358.3 918.8,361.6 918.9,361.4 919,363.6 919.2,365 919.3,368 920.1,369.4 921,371 921.9,372.4 922.7,372.5 922.7,376.3 922.7,374.5 922.7,377.3 922.7,379.7 923.7,382.4 924.6,383.4 925.5,383.7 926.5,384.5 927.2,387.2 928,387.5 928.8,392.1 929.5,392 930.4,393.3 931.3,393.7 932.2,393.7 933.1,394.5 934,397.2 935,399.9 936.1,400.5 937.1,398.1 938.2,400.4 939.2,402.2 939.3,400.1 939.4,398.2 939.5,395.7 939.6,396.1 939.6,391.7 939.7,390.5 939.8,390.3 939.9,387.1 940,384.5 940.7,382.2 941.4,379.4 942.1,377.4 942.8,376.2 943.5,374.8 944.2,371.3 944.6,372.4 945,375.1 945.5,377.4 945.9,379.5 946.3,384.1 946.7,384.5 947.7,383.5 948.6,381.3 949.5,380.4 950.5,380 951.1,383.4 951.7,382.4 952.3,386.7 952.9,385.7 953.5,389.7 954.5,386.3 955.5,383.8 956.5,383.7 957.4,384.1 958.4,380.3 959.3,379.7 960.2,380 961.2,379.8 962.2,382.4 963.2,385.2 964.2,384.9 965.1,383.6 966,383.1 967,380 967.2,380 967.5,376.2 967.8,375.9 968,370.2 968.2,371.9 968.5,368 968.9,365.7 969.3,362.6 969.8,363.1 970.2,361.6 970.6,357.5 971,356 971.9,355.7 972.8,360.6 973.7,360.5 974.3,363.3 974.9,364.3 975.4,367.6 976,367.2 976.9,366.5 977.9,367.9 978.8,369.5 979.7,372.5 980,372.3 980.2,377.1 980.5,378.7 980.7,378.3 981,380.3 981.2,383.7 981.8,380.4 982.4,380.3 983,378.6 983.6,378 984.2,374 984.8,371.5 985.4,372.4 985.9,368.1 986.5,366.5 987.4,364.8 988.3,363 989.2,361.7 990.1,363.8 991,360.5 991.9,363.4 992.9,362.9 993.8,361.3 994.7,363.5 995,359.9 995.4,357.7 995.7,356.4 996,356 996.3,350.8 996.7,350.8 997,348.5 998,350.3 999,348.4 1000,351.5 1000.9,353.2 1001.7,356.8 1002.6,357.5 1003.6,358.1 1004.6,357.9 1005.5,360.1 1006.5,359.1 1007.5,359 1008,356.2 1008.4,354.4 1008.9,354.8 1009.4,352.3 1009.8,350.5 1010.3,346.9 1010.7,343 1011.2,342.5 1011.7,342.8 1012.2,345.5 1012.7,347.7 1013.6,349.9 1014.5,348.2 1015.4,353.1 1016.3,354.4 1017.2,354.5 1017.8,356.2 1018.4,355.7 1018.9,360.8 1019.5,361.2 1020.4,362.3 1021.4,364.9 1022.3,366 1023.2,367.2 1024.2,367.5 1025.2,365.3 1026.2,365 1026.4,365.1 1026.6,363.1 1026.8,361.1 1027.1,357.8 1027.3,354.5 1027.5,352.9 1027.7,351.5 1028.5,349.5 1029.2,351.3 1030,348.5 1030.9,350.7 1031.8,351.6 1032.8,352.7 1033.7,352.2 1034.5,356.4 1035.2,357 1036,358.2 1036.1,359.6 1036.2,363.7 1036.3,363.6 1036.3,367.3 1036.4,367.5 1036.5,372.7 1036.6,373.3 1036.7,375.5 1037.3,372.6 1037.8,373.6 1038.4,368 1039,368 1039.9,369.2 1040.8,367.8 1041.7,366 1042.7,365.4 1043.6,369 1044.5,369.1 1045.5,369.7 1046.5,372.4 1047.5,371.8 1048.5,372 1049.5,375.1 1050.5,372.3 1051.5,375 1052.4,374.1 1053.3,369.1 1054.2,367.7 1055.1,364.9 1056,364.5 1056.9,364.5 1057.8,360.9 1058.7,360.5 1059.6,356.8 1060.5,356.2 1061.4,356.5 1062.3,355.4 1063.3,352.2 1064.2,353.2 1065,355.2 1065.7,358.3 1066.5,358.2 1067.2,361.5 1068.2,362 1069.1,360.1 1070,360.3 1071,360.7 1071.9,362.4 1072.8,362.4 1073.7,362.5 1074.6,359.8 1075.5,360 1076.2,361.8 1077,364.4 1077.7,364.5 1078.7,364.4 1079.7,361.8 1080.7,360.7 1081.7,361.9 1082.6,359.5 1083.5,361.6 1084.5,359.2 1085.5,360.1 1086.5,359.5 1087.5,362.2 1087.9,365.4 1088.3,364.8 1088.8,369.2 1089.2,370.5 1090.3,370.4 1091.3,376.4 1092.4,376.3 1093.5,378 1094,380.9 1094.5,381.7 1095.2,378.4 1096,379 1096.8,376.1 1097.5,375 1098.4,371.9 1099.3,372.4 1100.2,369 1100.7,365.1 1101.1,365.3 1101.6,361.8 1102,363.3 1102.5,360 1102.6,363.8 1102.6,362.2 1102.7,366.1 1102.7,368.3 1102.8,370.5 1103.1,373.3 1103.4,375.3 1103.7,375.4 1104,378 1104.2,381.8 1104.3,380.4 1104.5,382 1104.7,385.5 1105,388.7 1105.3,387.4 1105.6,389.5 1105.9,392.7 1106.2,394.5 1107,395.5 1107.7,396.5 1108.5,399.7 1109.5,400.4 1110.5,397.1 1111.5,396 1112,398.8 1112.5,397.9 1113,400.5 1113.5,400.2 1114,395.1 1114.5,396 1115,392.6 1115.5,390 1115.9,393.9 1116.3,394.8 1116.7,396 1117.1,397.3 1117.5,399 1118,402.1 1118.5,401.8 1119,403.5 1120,403.7 1121,409.3 1122,409.5 1123,411.3 1124,411.3 1125,411 1126,412.8 1127,411.3 1128,413.2 1127.9,411.2 1127.9,411 1127.8,409.8 1127.8,407.9 1127.7,404.2 1128.3,401.2 1128.9,402 1129.5,399.7 1130.5,400.2 1131.5,399.8 1132.5,400.5 1133.2,397.5 1134,395.9 1134.7,396 1135.7,394.5 1136.6,393.3 1137.5,391 1138.5,390.7" fill="none" stroke="#383838" stroke-width="0.75" stroke-linejoin="round"/>
<path d="M443.2 212.8L442.6 205.8M443.2 212.8L448.3 224M452.9 226.3L454 240.5M452.8 235L462.2 240.9M464.5 241.9L468 247.4M468 247.4L467.1 248.9M468 254.2L468.6 255.7M468.6 255.7L470 259.1M480.8 240.7L489.7 238.3M499.7 254.2L502 242.6M502 242.6L501.9 234.1M505.1 232L507.5 222M505.1 232L508.3 224.8M505.5 229L510.5 227.6M501.9 234.1L511.7 232.3M518.7 252L519.3 256.4M519.3 256.4L519.6 256.1M516.8 246.3L519.6 254.7M520 261.2L519.8 248M573.9 197.5L576 205.1M558.9 209.8L574.6 207.7M571.3 194.5L575.6 210.7M571.3 198L575.6 214.1M575.6 210.7L575.9 214.7M579.3 222.2L583.4 215.7M579.4 226.2L586 211.2M593.8 196.2L601.5 192.5M592.5 200.1L600.8 195.1M591 206.3L600.8 201.3M620.9 211L627.5 199.4M659.8 192.3L667.2 202.8M669.9 202.3L684.9 208.4M767.7 286.4L771.9 285.1M786.9 341.1L788.4 350.3M789.5 361.3L789.4 355.5M790.4 360.1L791.3 351.7M814.1 391.9L813.5 390.2M814.1 391.9L815.5 380M822.3 380.6L824.5 392.3M825.8 388.9L827 392.8M827.7 400.1L831.3 386.7M836.9 356.4L844.9 359.6M857.9 352.6L860.1 354.9M860.5 352.6L863.2 364.4M860.5 352.6L865.6 366.5M869.5 372.5L869.6 376.4M881.9 378.2L885.1 366.6M889.5 347.1L890.6 338M890.9 345.2L891.7 344.7M894.4 357.5L900.2 351M942.9 377.4L956.1 388M969.6 357.8L978.2 370.6M977 368.7L979.4 373.8M1002.2 353.4L1002.4 358.3M997.7 349.4L1014 350.5M1014 350.5L1017.8 354.8M1026.5 350.8L1035.2 363.7M1036.4 362.2L1037.4 373M1059.6 358.1L1064.7 353.9M1057.6 362.4L1065.1 357.9M1085.1 359.2L1088.2 366.6M1086.8 361.8L1096.5 374.7M1094.1 377.6L1099.9 365M1099.9 365L1103.6 366M1101.1 368.9L1103 370.4M1100.9 362.9L1103.5 373.7M1103.5 360.7L1105.2 376.7M1103 370.4L1104.9 383M1103 370.4L1105.6 385.4M1103.5 373.7L1106 390.3M1106 390.3L1110.4 396M1110.4 396L1112.9 400M1104.9 383L1112.9 395.7M1127.8 413.4L1127.8 406.6M1119.6 405.7L1128 403.6M1117.8 403.8L1128.8 400.5M944.5 377L971 356M945 379L971 357.5M1012.7 347L1027 350M621.5 206L633.5 191M623 207L634 193M616 200L633.7 191M446 221L457 247M447 221L469 258M477.5 243L494 254M480.5 242L494 255M486 237L495 255M521 243.5L544 231M575 209L588 209M1017 353L1023.2 367M1104 378L1108 399M1029 350L1036.7 375M979.5 372L981 383" stroke="#ff3232" stroke-width="1.7" fill="none" stroke-linecap="round"/>
<path d="M454 240.5L458 249.4M458.3 243.8L464.5 241.9M452.8 235L466.9 243.1M468.6 255.7L472.2 252M468.6 255.7L473.7 251.5M472.2 252L475.2 247.7M467.1 248.9L476.4 241.6M473.7 251.5L480.8 240.7M505.5 229L511.5 234.1M501.9 234.1L512.5 237.4M505.5 229L511.7 239.9M511.7 232.3L513.5 242.3M511.7 232.3L516.8 246.3M512.5 237.4L518.7 252M516.8 246.3L521.3 249.9M519.6 254.7L520.4 242.1M518.7 252L523.7 239.8M523.7 239.8L527 233.3M544.2 227.2L547.7 238.1M544.2 227.2L548.5 233.7M547.7 238.1L550.7 230M544.9 232.5L551.7 226.2M547.7 238.1L552.9 222.7M544.9 232.5L553 220.8M552.9 222.7L554.8 215.2M593.8 196.2L597.3 193.3M600.8 195.1L602.9 197.9M600.8 201.3L615.1 206.1M617.1 214.6L621.5 208M627.5 199.4L636.1 187M636.1 187L639.3 194.5M636.1 187L641.2 195.3M641.2 195.3L646 199.1M639.3 194.5L650.3 196.8M652.4 194.1L656.4 195.7M663.9 185.1L663.8 193.9M664.1 196.9L669.9 202.3M669.9 202.3L681 213.9M673 205.7L687.9 205.8M680.4 209.2L688.7 201.5M688.7 201.5L696 207.8M684.9 208.4L699.7 212.6M698.7 210.7L710.3 221.7M704 221.5L711.9 222.3M707.2 220.4L714 225.8M710.3 221.7L718.2 233M723.1 243.8L723.3 251.5M723.1 243.8L730.2 256.8M723.4 245.8L732.1 258.8M730.2 256.8L732.3 262.9M732.1 258.8L735.9 264.9M735.3 275.1L737.5 269.5M735.3 275.1L738.3 267.5M742.2 258.5L744.5 262.3M738.1 261L748.2 270.7M750.5 280.7L752.2 280.1M747 269L754 278.3M749.6 278.7L756.1 275.6M750.5 280.7L758.7 273.6M756.1 275.6L760 276M756.1 275.6L761.6 281.3M752.2 280.1L763 285.3M760 276L765.6 290M760 276L767.7 286.4M760 276L769.8 285M769.8 285L769.8 279M769.8 279L771.6 289M767.7 286.4L774.1 293.4M765.6 290L775.7 297.8M769.8 285L776 298.8M776 298.8L778 302M778 302L777.2 304.7M773.1 292.7L777.7 308.2M778 302L779 310.6M777.7 308.2L782.8 321.8M780 315.9L783.8 327.6M781.1 318.1L785.9 329.4M785.9 329.4L786.9 341.1M786 338.2L786.9 343M788.1 348.1L792.7 348.9M788.4 350.3L793.5 345.3M786.5 354L795.6 345.1M789.5 361.3L799.3 347.6M800.1 348.7L803.5 354.2M795.6 345.1L805 358.2M805 358.2L806.1 362.6M811.8 392.2L811 397.6M811 397.6L814.1 391.9M814.1 391.9L813.3 386.9M814.1 391.9L814.6 382.1M823.3 377.5L822.3 380.6M823.3 377.5L823.6 385.1M813.5 390.2L825.8 388.9M827.7 400.1L830.7 390M825.8 388.9L832 383.2M832 383.2L833.4 370M845.9 367.5L846.7 373.1M846.7 373.1L848.5 372.1M848.5 372.1L850.6 369.3M845.9 367.5L850.8 365.3M846.7 373.1L851.1 363.3M845.9 367.5L852.2 360.5M851.1 363.3L852.6 356.4M852.6 356.4L856 360.9M852.6 356.4L857 357M856 360.9L859 349M874 381L878.8 377M874 381L882.5 382.6M875.4 377.8L881.9 378.2M869.6 376.4L882 374.6M885.1 366.6L884.4 363.3M884.4 363.3L887.2 370.3M882 374.6L888.9 367.7M887.2 370.3L890.1 363.6M884.6 371L888.8 361.7M890 352.6L889.5 347.1M889.4 350.1L890.9 345.2M890.9 345.2L889.8 338.9M889.8 338.9L890 341M889.2 340.4L890.4 349.1M890 341L893.4 353.9M892.7 351.4L896.3 363.5M896.3 363.5L898.4 358.8M894.4 357.5L897.9 355.4M893.4 353.9L902.4 350.2M900.2 351L904.3 349.7M897.9 355.4L903 358M904.3 349.7L903.2 361.7M900.2 351L903.9 364.2M903.9 364.2L906.5 361.3M904.1 354.6L907.4 358.3M907.4 358.3L911.2 355.1M911.2 355.1L913.4 351.1M903 358L915.8 347.6M907.4 358.3L917 350.7M906.5 361.3L918.4 358M918.4 358L918.8 365.8M939.9 380.8L944.3 372M939.2 383.8L944.5 376.1M942.4 376L944.3 379.2M944.3 379.2L946.3 382.5M968.4 374.3L975.1 363.6M974 361.3L977 368.7M975.1 363.6L979.5 375.8M977 368.7L980.6 380.7M975.1 363.6L982 379M980.6 380.7L984.1 377M984.1 377L984.3 373.3M980.6 380.7L984.9 371.4M995.1 358.8L999 352.5M999 352.5L1008.2 360.3M1002.2 353.4L1012.1 341.9M1008.2 360.3L1018.7 362.3M1027.7 362.5L1026.5 350.8M1027.3 353.4L1034.5 352.9M1026.5 365.3L1035.1 358.2M1035.8 355.1L1036.4 362.2M1036.4 362.2L1036.9 372.6M1039.3 368.4L1041 366.1M1065.1 357.9L1066.9 360.1M1065.1 357.9L1080.8 362.1M1097.9 373.2L1101.1 368.9M1099.9 365L1100.9 362.9M1104.9 383L1105.5 395.6M1115.8 394.6L1115.4 391.5M1115.8 394.6L1115.3 393.3M1107.5 399.4L1115.7 397.4M1112.9 400L1116.6 399.9M1115.8 394.6L1117.8 403.8M1115.3 393.3L1119.6 405.7M718.7 240L736.7 277.5M719.5 240L736.7 277.5M720.7 239L736.7 277.5M772 289.5L788.4 339M773 289.5L788.4 345M774 291L788.6 355M939.2 389L919 368M939.2 398L922 372M946 380L973 360.5M946 381L1011.2 342.5M947 384L1011.2 347M970 368L1011 347.7M1012.7 347L1027.7 351.5M1041.7 365.2L1097.2 375M1040.5 366.5L1097.2 376M1038.7 369L1094.5 381.7M1041.7 366L1089.5 370.5M1103.2 378L1115.5 390M1115.5 390L1127.2 404.2M555.5 212L548.7 238.2M555.5 212L544.5 231M561.5 207L548.7 238.2M572 197L553 223M572 199L561 208M519.5 256L511.2 231.5M470 257L455 243M637.2 187.5L653 192.5M637.2 189L647 197M664.5 190L678 205M601.5 198L613 204M617 214L613 204M885.5 364L890.3 338M887 368L890.6 340M897 366L903 347M834.5 374L838 352M809 366L812.5 398M1056.5 364L1041 366" stroke="#2cff2c" stroke-width="1.8" fill="none" stroke-linecap="round"/>
<g fill="#ff3232" stroke="#000" stroke-width="1"><circle cx="442.6" cy="205.8" r="1.85"/><circle cx="444.6" cy="211" r="1.85"/><circle cx="446.2" cy="215.9" r="1.85"/><circle cx="448.3" cy="224" r="1.85"/><circle cx="452.8" cy="235" r="1.85"/><circle cx="454" cy="240.5" r="1.85"/><circle cx="458.3" cy="243.8" r="1.85"/><circle cx="462.2" cy="240.9" r="1.85"/><circle cx="468" cy="247.4" r="1.85"/><circle cx="467.1" cy="248.9" r="1.85"/><circle cx="468" cy="254.2" r="1.85"/><circle cx="468.6" cy="255.7" r="1.85"/><circle cx="470" cy="259.1" r="1.85"/><circle cx="483.7" cy="239.7" r="1.85"/><circle cx="489.7" cy="238.3" r="1.85"/><circle cx="491.1" cy="241.8" r="1.85"/><circle cx="493.2" cy="252.7" r="1.85"/><circle cx="499.7" cy="254.2" r="1.85"/><circle cx="500.4" cy="249.8" r="1.85"/><circle cx="500.7" cy="247.5" r="1.85"/><circle cx="502" cy="242.6" r="1.85"/><circle cx="501.9" cy="234.1" r="1.85"/><circle cx="505.1" cy="232" r="1.85"/><circle cx="505.5" cy="229" r="1.85"/><circle cx="507.5" cy="222" r="1.85"/><circle cx="508.3" cy="224.8" r="1.85"/><circle cx="510.5" cy="227.6" r="1.85"/><circle cx="511.7" cy="232.3" r="1.85"/><circle cx="516.1" cy="250.7" r="1.85"/><circle cx="519.3" cy="256.4" r="1.85"/><circle cx="519.6" cy="256.1" r="1.85"/><circle cx="519.6" cy="254.7" r="1.85"/><circle cx="519.8" cy="248" r="1.85"/><circle cx="535.3" cy="223.4" r="1.85"/><circle cx="538.8" cy="221" r="1.85"/><circle cx="545.5" cy="234.1" r="1.85"/><circle cx="568.9" cy="201.1" r="1.85"/><circle cx="571.3" cy="198" r="1.85"/><circle cx="571.3" cy="194.5" r="1.85"/><circle cx="573.9" cy="197.5" r="1.85"/><circle cx="576" cy="205.1" r="1.85"/><circle cx="574.6" cy="207.7" r="1.85"/><circle cx="575.6" cy="210.7" r="1.85"/><circle cx="575.6" cy="214.1" r="1.85"/><circle cx="575.9" cy="214.7" r="1.85"/><circle cx="577" cy="218.5" r="1.85"/><circle cx="579.3" cy="222.2" r="1.85"/><circle cx="579.4" cy="226.2" r="1.85"/><circle cx="580.3" cy="222.1" r="1.85"/><circle cx="581.6" cy="218.9" r="1.85"/><circle cx="583.4" cy="215.7" r="1.85"/><circle cx="586" cy="211.2" r="1.85"/><circle cx="591.8" cy="202.9" r="1.85"/><circle cx="592.5" cy="200.1" r="1.85"/><circle cx="601.5" cy="192.5" r="1.85"/><circle cx="600.8" cy="195.1" r="1.85"/><circle cx="600.8" cy="199.7" r="1.85"/><circle cx="600.8" cy="201.3" r="1.85"/><circle cx="600.9" cy="199.1" r="1.85"/><circle cx="620.9" cy="211" r="1.85"/><circle cx="624" cy="203.7" r="1.85"/><circle cx="625" cy="200.6" r="1.85"/><circle cx="625.3" cy="198.2" r="1.85"/><circle cx="627.5" cy="199.4" r="1.85"/><circle cx="652.4" cy="192.6" r="1.85"/><circle cx="664.1" cy="196.9" r="1.85"/><circle cx="667.2" cy="202.8" r="1.85"/><circle cx="684.9" cy="208.4" r="1.85"/><circle cx="749" cy="274.8" r="1.85"/><circle cx="751.6" cy="283.9" r="1.85"/><circle cx="771.9" cy="285.1" r="1.85"/><circle cx="788.4" cy="350.3" r="1.85"/><circle cx="789.4" cy="355.5" r="1.85"/><circle cx="791.3" cy="351.7" r="1.85"/><circle cx="812.1" cy="400.6" r="1.85"/><circle cx="813.8" cy="396.7" r="1.85"/><circle cx="813.5" cy="390.2" r="1.85"/><circle cx="815.5" cy="380" r="1.85"/><circle cx="824.5" cy="392.3" r="1.85"/><circle cx="827" cy="392.8" r="1.85"/><circle cx="827.7" cy="400.1" r="1.85"/><circle cx="827.3" cy="395.8" r="1.85"/><circle cx="831.3" cy="386.7" r="1.85"/><circle cx="834.4" cy="377.2" r="1.85"/><circle cx="834.5" cy="373.6" r="1.85"/><circle cx="833.7" cy="363.7" r="1.85"/><circle cx="844.9" cy="359.6" r="1.85"/><circle cx="860.5" cy="352.6" r="1.85"/><circle cx="860.1" cy="354.9" r="1.85"/><circle cx="863.2" cy="364.4" r="1.85"/><circle cx="865.6" cy="366.5" r="1.85"/><circle cx="868.3" cy="370.8" r="1.85"/><circle cx="869.5" cy="372.5" r="1.85"/><circle cx="869.6" cy="376.4" r="1.85"/><circle cx="874" cy="381" r="1.85"/><circle cx="885.1" cy="366.6" r="1.85"/><circle cx="890.6" cy="338" r="1.85"/><circle cx="890.1" cy="333.6" r="1.85"/><circle cx="891.7" cy="344.7" r="1.85"/><circle cx="900.2" cy="351" r="1.85"/><circle cx="922.3" cy="376.7" r="1.85"/><circle cx="940.7" cy="389.2" r="1.85"/><circle cx="956.1" cy="388" r="1.85"/><circle cx="968.9" cy="361.7" r="1.85"/><circle cx="969.6" cy="357.8" r="1.85"/><circle cx="978.2" cy="370.6" r="1.85"/><circle cx="979.4" cy="373.8" r="1.85"/><circle cx="1002.2" cy="353.4" r="1.85"/><circle cx="1002.4" cy="358.3" r="1.85"/><circle cx="1014" cy="350.5" r="1.85"/><circle cx="1017.8" cy="354.8" r="1.85"/><circle cx="1018.6" cy="357" r="1.85"/><circle cx="1022.7" cy="367.3" r="1.85"/><circle cx="1035.8" cy="355.1" r="1.85"/><circle cx="1035.2" cy="363.7" r="1.85"/><circle cx="1037.4" cy="373" r="1.85"/><circle cx="1039.3" cy="368.4" r="1.85"/><circle cx="1055.8" cy="364.6" r="1.85"/><circle cx="1057.6" cy="362.4" r="1.85"/><circle cx="1059.6" cy="358.1" r="1.85"/><circle cx="1061.2" cy="355.4" r="1.85"/><circle cx="1064.7" cy="353.9" r="1.85"/><circle cx="1065.1" cy="357.9" r="1.85"/><circle cx="1074.7" cy="359.8" r="1.85"/><circle cx="1086.8" cy="361.8" r="1.85"/><circle cx="1088.2" cy="366.6" r="1.85"/><circle cx="1094.1" cy="377.6" r="1.85"/><circle cx="1096" cy="379.8" r="1.85"/><circle cx="1096.5" cy="374.7" r="1.85"/><circle cx="1099.9" cy="365" r="1.85"/><circle cx="1103.5" cy="360.7" r="1.85"/><circle cx="1103.6" cy="366" r="1.85"/><circle cx="1103" cy="370.4" r="1.85"/><circle cx="1103.5" cy="373.7" r="1.85"/><circle cx="1105.2" cy="376.7" r="1.85"/><circle cx="1104.9" cy="383" r="1.85"/><circle cx="1105.6" cy="385.4" r="1.85"/><circle cx="1106" cy="390.3" r="1.85"/><circle cx="1107.5" cy="399.4" r="1.85"/><circle cx="1110.4" cy="396" r="1.85"/><circle cx="1112.9" cy="400" r="1.85"/><circle cx="1112.9" cy="395.7" r="1.85"/><circle cx="1121.4" cy="410.4" r="1.85"/><circle cx="1125.2" cy="410.2" r="1.85"/><circle cx="1127.8" cy="406.6" r="1.85"/><circle cx="1128" cy="403.6" r="1.85"/><circle cx="1128.8" cy="400.5" r="1.85"/></g>
<g fill="#19ff19" stroke="#000" stroke-width="1"><circle cx="441.2" cy="216.7" r="1.85"/><circle cx="443.2" cy="212.8" r="1.85"/><circle cx="443.2" cy="211.4" r="1.85"/><circle cx="445.5" cy="212.8" r="1.85"/><circle cx="445.7" cy="218.7" r="1.85"/><circle cx="452.9" cy="226.3" r="1.85"/><circle cx="454" cy="229.9" r="1.85"/><circle cx="453.6" cy="233.5" r="1.85"/><circle cx="458" cy="249.4" r="1.85"/><circle cx="464.5" cy="241.9" r="1.85"/><circle cx="466.9" cy="243.1" r="1.85"/><circle cx="472.2" cy="252" r="1.85"/><circle cx="473.7" cy="251.5" r="1.85"/><circle cx="475.2" cy="247.7" r="1.85"/><circle cx="476.4" cy="241.6" r="1.85"/><circle cx="480.8" cy="240.7" r="1.85"/><circle cx="494.6" cy="254.4" r="1.85"/><circle cx="500.2" cy="246.4" r="1.85"/><circle cx="502.8" cy="236.8" r="1.85"/><circle cx="511.5" cy="234.1" r="1.85"/><circle cx="512.5" cy="237.4" r="1.85"/><circle cx="511.7" cy="239.9" r="1.85"/><circle cx="513.5" cy="242.3" r="1.85"/><circle cx="516.8" cy="246.3" r="1.85"/><circle cx="518.7" cy="252" r="1.85"/><circle cx="520" cy="261.2" r="1.85"/><circle cx="521.3" cy="249.9" r="1.85"/><circle cx="520.4" cy="242.1" r="1.85"/><circle cx="523.7" cy="239.8" r="1.85"/><circle cx="525.1" cy="234.2" r="1.85"/><circle cx="527" cy="233.3" r="1.85"/><circle cx="533.3" cy="227.4" r="1.85"/><circle cx="542.7" cy="226.4" r="1.85"/><circle cx="544.2" cy="227.2" r="1.85"/><circle cx="544.9" cy="232.5" r="1.85"/><circle cx="547.7" cy="238.1" r="1.85"/><circle cx="548.5" cy="233.7" r="1.85"/><circle cx="550.7" cy="230" r="1.85"/><circle cx="551.7" cy="226.2" r="1.85"/><circle cx="552.9" cy="222.7" r="1.85"/><circle cx="553" cy="220.8" r="1.85"/><circle cx="554.8" cy="215.2" r="1.85"/><circle cx="555.3" cy="213.4" r="1.85"/><circle cx="558.9" cy="209.8" r="1.85"/><circle cx="591" cy="206.3" r="1.85"/><circle cx="593.8" cy="196.2" r="1.85"/><circle cx="597.3" cy="193.3" r="1.85"/><circle cx="602.9" cy="197.9" r="1.85"/><circle cx="615.1" cy="206.1" r="1.85"/><circle cx="615.9" cy="210.6" r="1.85"/><circle cx="617.1" cy="214.6" r="1.85"/><circle cx="618" cy="210.8" r="1.85"/><circle cx="621.5" cy="208" r="1.85"/><circle cx="636.1" cy="187" r="1.85"/><circle cx="637.3" cy="190.9" r="1.85"/><circle cx="639.3" cy="194.5" r="1.85"/><circle cx="641.2" cy="195.3" r="1.85"/><circle cx="643.1" cy="197.2" r="1.85"/><circle cx="646" cy="199.1" r="1.85"/><circle cx="649.1" cy="199.5" r="1.85"/><circle cx="650.3" cy="196.8" r="1.85"/><circle cx="652.4" cy="194.1" r="1.85"/><circle cx="656.4" cy="195.7" r="1.85"/><circle cx="659.8" cy="192.3" r="1.85"/><circle cx="661.7" cy="189" r="1.85"/><circle cx="663.9" cy="185.1" r="1.85"/><circle cx="663.8" cy="193.9" r="1.85"/><circle cx="669.9" cy="202.3" r="1.85"/><circle cx="673" cy="205.7" r="1.85"/><circle cx="678.6" cy="204.6" r="1.85"/><circle cx="680.4" cy="209.2" r="1.85"/><circle cx="681" cy="213.9" r="1.85"/><circle cx="682.7" cy="211.8" r="1.85"/><circle cx="687.9" cy="205.8" r="1.85"/><circle cx="688.7" cy="201.5" r="1.85"/><circle cx="691" cy="204" r="1.85"/><circle cx="696" cy="207.8" r="1.85"/><circle cx="698.7" cy="210.7" r="1.85"/><circle cx="699.7" cy="212.6" r="1.85"/><circle cx="702.8" cy="216.7" r="1.85"/><circle cx="704" cy="221.5" r="1.85"/><circle cx="707.2" cy="220.4" r="1.85"/><circle cx="710.3" cy="221.7" r="1.85"/><circle cx="711.9" cy="222.3" r="1.85"/><circle cx="714" cy="225.8" r="1.85"/><circle cx="714.7" cy="229.3" r="1.85"/><circle cx="718.2" cy="233" r="1.85"/><circle cx="721.8" cy="237.4" r="1.85"/><circle cx="721.8" cy="241.4" r="1.85"/><circle cx="723.1" cy="243.8" r="1.85"/><circle cx="723.4" cy="245.8" r="1.85"/><circle cx="723.3" cy="251.5" r="1.85"/><circle cx="723.5" cy="253.1" r="1.85"/><circle cx="727.7" cy="249.8" r="1.85"/><circle cx="728.1" cy="253.8" r="1.85"/><circle cx="730.2" cy="256.8" r="1.85"/><circle cx="732.1" cy="258.8" r="1.85"/><circle cx="732.3" cy="262.9" r="1.85"/><circle cx="735.9" cy="264.9" r="1.85"/><circle cx="736.6" cy="271.3" r="1.85"/><circle cx="735.3" cy="275.1" r="1.85"/><circle cx="735.5" cy="277.4" r="1.85"/><circle cx="738" cy="274.5" r="1.85"/><circle cx="737.5" cy="269.5" r="1.85"/><circle cx="738.3" cy="267.5" r="1.85"/><circle cx="738.1" cy="261" r="1.85"/><circle cx="741.3" cy="259.7" r="1.85"/><circle cx="740.9" cy="254.3" r="1.85"/><circle cx="742.2" cy="258.5" r="1.85"/><circle cx="744.5" cy="262.3" r="1.85"/><circle cx="747" cy="269" r="1.85"/><circle cx="748.2" cy="270.7" r="1.85"/><circle cx="749.6" cy="278.7" r="1.85"/><circle cx="750.5" cy="280.7" r="1.85"/><circle cx="752.2" cy="280.1" r="1.85"/><circle cx="754" cy="278.3" r="1.85"/><circle cx="756.1" cy="275.6" r="1.85"/><circle cx="758.7" cy="273.6" r="1.85"/><circle cx="760" cy="276" r="1.85"/><circle cx="761.6" cy="281.3" r="1.85"/><circle cx="763" cy="285.3" r="1.85"/><circle cx="765.6" cy="290" r="1.85"/><circle cx="767.7" cy="286.4" r="1.85"/><circle cx="769.8" cy="285" r="1.85"/><circle cx="769.8" cy="279" r="1.85"/><circle cx="771.6" cy="289" r="1.85"/><circle cx="773.1" cy="292.7" r="1.85"/><circle cx="774.1" cy="293.4" r="1.85"/><circle cx="775.7" cy="297.8" r="1.85"/><circle cx="776" cy="298.8" r="1.85"/><circle cx="778" cy="302" r="1.85"/><circle cx="777.2" cy="304.7" r="1.85"/><circle cx="777.7" cy="308.2" r="1.85"/><circle cx="779" cy="310.6" r="1.85"/><circle cx="780" cy="315.9" r="1.85"/><circle cx="781.1" cy="318.1" r="1.85"/><circle cx="782.8" cy="321.8" r="1.85"/><circle cx="783.8" cy="327.6" r="1.85"/><circle cx="785.9" cy="329.4" r="1.85"/><circle cx="786.6" cy="333" r="1.85"/><circle cx="786" cy="338.2" r="1.85"/><circle cx="786.9" cy="341.1" r="1.85"/><circle cx="786.9" cy="343" r="1.85"/><circle cx="788.1" cy="348.1" r="1.85"/><circle cx="786.5" cy="354" r="1.85"/><circle cx="787.2" cy="356.7" r="1.85"/><circle cx="789.5" cy="361.3" r="1.85"/><circle cx="790.4" cy="360.1" r="1.85"/><circle cx="792.7" cy="348.9" r="1.85"/><circle cx="793.5" cy="345.3" r="1.85"/><circle cx="795.6" cy="345.1" r="1.85"/><circle cx="799.3" cy="347.6" r="1.85"/><circle cx="800.1" cy="348.7" r="1.85"/><circle cx="803.5" cy="354.2" r="1.85"/><circle cx="805" cy="358.2" r="1.85"/><circle cx="806.1" cy="362.6" r="1.85"/><circle cx="807.4" cy="367.8" r="1.85"/><circle cx="811.8" cy="392.2" r="1.85"/><circle cx="811" cy="397.6" r="1.85"/><circle cx="812.3" cy="400" r="1.85"/><circle cx="814.1" cy="391.9" r="1.85"/><circle cx="813.3" cy="386.9" r="1.85"/><circle cx="814.6" cy="382.1" r="1.85"/><circle cx="816.3" cy="374.6" r="1.85"/><circle cx="823.3" cy="377.5" r="1.85"/><circle cx="822.3" cy="380.6" r="1.85"/><circle cx="823.6" cy="385.1" r="1.85"/><circle cx="825.8" cy="388.9" r="1.85"/><circle cx="827.5" cy="396.8" r="1.85"/><circle cx="830.7" cy="390" r="1.85"/><circle cx="832" cy="383.2" r="1.85"/><circle cx="834.9" cy="371.2" r="1.85"/><circle cx="833.4" cy="370" r="1.85"/><circle cx="835.3" cy="365.1" r="1.85"/><circle cx="836.9" cy="356.4" r="1.85"/><circle cx="838" cy="352.2" r="1.85"/><circle cx="841.7" cy="355.6" r="1.85"/><circle cx="844.2" cy="358.1" r="1.85"/><circle cx="843.6" cy="366" r="1.85"/><circle cx="845.9" cy="367.5" r="1.85"/><circle cx="847.1" cy="369.2" r="1.85"/><circle cx="846.7" cy="373.1" r="1.85"/><circle cx="848.3" cy="376.1" r="1.85"/><circle cx="848.5" cy="372.1" r="1.85"/><circle cx="850.6" cy="369.3" r="1.85"/><circle cx="850.8" cy="365.3" r="1.85"/><circle cx="851.1" cy="363.3" r="1.85"/><circle cx="852.2" cy="360.5" r="1.85"/><circle cx="852.6" cy="356.4" r="1.85"/><circle cx="856" cy="360.9" r="1.85"/><circle cx="857" cy="357" r="1.85"/><circle cx="857.9" cy="352.6" r="1.85"/><circle cx="859" cy="349" r="1.85"/><circle cx="875.4" cy="377.8" r="1.85"/><circle cx="878.8" cy="377" r="1.85"/><circle cx="882.5" cy="382.6" r="1.85"/><circle cx="881.9" cy="378.2" r="1.85"/><circle cx="882" cy="374.6" r="1.85"/><circle cx="884.6" cy="371" r="1.85"/><circle cx="884.4" cy="363.3" r="1.85"/><circle cx="887.2" cy="370.3" r="1.85"/><circle cx="888.9" cy="367.7" r="1.85"/><circle cx="890.1" cy="363.6" r="1.85"/><circle cx="888.8" cy="361.7" r="1.85"/><circle cx="889.9" cy="356.4" r="1.85"/><circle cx="890" cy="352.6" r="1.85"/><circle cx="889.4" cy="350.1" r="1.85"/><circle cx="889.5" cy="347.1" r="1.85"/><circle cx="890.9" cy="345.2" r="1.85"/><circle cx="889.2" cy="340.4" r="1.85"/><circle cx="889.8" cy="338.9" r="1.85"/><circle cx="890" cy="341" r="1.85"/><circle cx="890.4" cy="349.1" r="1.85"/><circle cx="892.7" cy="351.4" r="1.85"/><circle cx="893.4" cy="353.9" r="1.85"/><circle cx="894.4" cy="357.5" r="1.85"/><circle cx="896.8" cy="362.1" r="1.85"/><circle cx="897.2" cy="365.4" r="1.85"/><circle cx="896.3" cy="363.5" r="1.85"/><circle cx="898.4" cy="358.8" r="1.85"/><circle cx="897.9" cy="355.4" r="1.85"/><circle cx="902.4" cy="350.2" r="1.85"/><circle cx="904.3" cy="349.7" r="1.85"/><circle cx="904.1" cy="354.6" r="1.85"/><circle cx="903" cy="358" r="1.85"/><circle cx="903.2" cy="361.7" r="1.85"/><circle cx="903.9" cy="364.2" r="1.85"/><circle cx="906.5" cy="361.3" r="1.85"/><circle cx="907.4" cy="358.3" r="1.85"/><circle cx="911.2" cy="355.1" r="1.85"/><circle cx="913.4" cy="353.1" r="1.85"/><circle cx="913.4" cy="351.1" r="1.85"/><circle cx="915.8" cy="347.6" r="1.85"/><circle cx="917" cy="350.7" r="1.85"/><circle cx="919.1" cy="353.8" r="1.85"/><circle cx="918.4" cy="358" r="1.85"/><circle cx="919.3" cy="360.8" r="1.85"/><circle cx="918.8" cy="365.8" r="1.85"/><circle cx="920" cy="368.1" r="1.85"/><circle cx="923.1" cy="378.3" r="1.85"/><circle cx="939.2" cy="383.8" r="1.85"/><circle cx="939.9" cy="380.8" r="1.85"/><circle cx="942.9" cy="377.4" r="1.85"/><circle cx="942.4" cy="376" r="1.85"/><circle cx="944.3" cy="372" r="1.85"/><circle cx="944.5" cy="376.1" r="1.85"/><circle cx="944.3" cy="379.2" r="1.85"/><circle cx="946.3" cy="382.5" r="1.85"/><circle cx="947.5" cy="383.1" r="1.85"/><circle cx="968.1" cy="378.1" r="1.85"/><circle cx="968.4" cy="374.3" r="1.85"/><circle cx="969" cy="366.5" r="1.85"/><circle cx="970.1" cy="356.7" r="1.85"/><circle cx="974" cy="361.3" r="1.85"/><circle cx="975.1" cy="363.6" r="1.85"/><circle cx="977" cy="368.7" r="1.85"/><circle cx="979.5" cy="375.8" r="1.85"/><circle cx="980.6" cy="380.7" r="1.85"/><circle cx="982" cy="379" r="1.85"/><circle cx="984.1" cy="377" r="1.85"/><circle cx="984.3" cy="373.3" r="1.85"/><circle cx="984.9" cy="371.4" r="1.85"/><circle cx="995.1" cy="358.8" r="1.85"/><circle cx="997.3" cy="350" r="1.85"/><circle cx="997.7" cy="349.4" r="1.85"/><circle cx="999" cy="352.5" r="1.85"/><circle cx="1008.2" cy="360.3" r="1.85"/><circle cx="1012.1" cy="341.9" r="1.85"/><circle cx="1018.7" cy="362.3" r="1.85"/><circle cx="1026.5" cy="365.3" r="1.85"/><circle cx="1027.7" cy="362.5" r="1.85"/><circle cx="1027.3" cy="353.4" r="1.85"/><circle cx="1026.5" cy="350.8" r="1.85"/><circle cx="1034.5" cy="352.9" r="1.85"/><circle cx="1035.1" cy="358.2" r="1.85"/><circle cx="1036.4" cy="362.2" r="1.85"/><circle cx="1035.4" cy="369.4" r="1.85"/><circle cx="1036.1" cy="375.7" r="1.85"/><circle cx="1036.9" cy="372.6" r="1.85"/><circle cx="1041" cy="366.1" r="1.85"/><circle cx="1066.9" cy="360.1" r="1.85"/><circle cx="1080.8" cy="362.1" r="1.85"/><circle cx="1085.1" cy="359.2" r="1.85"/><circle cx="1094.2" cy="381" r="1.85"/><circle cx="1097.9" cy="373.2" r="1.85"/><circle cx="1101.1" cy="368.9" r="1.85"/><circle cx="1100.9" cy="362.9" r="1.85"/><circle cx="1105.9" cy="387.6" r="1.85"/><circle cx="1105.5" cy="395.6" r="1.85"/><circle cx="1115.8" cy="394.6" r="1.85"/><circle cx="1115.4" cy="391.5" r="1.85"/><circle cx="1115.3" cy="393.3" r="1.85"/><circle cx="1115.7" cy="397.4" r="1.85"/><circle cx="1116.6" cy="399.9" r="1.85"/><circle cx="1117.8" cy="403.8" r="1.85"/><circle cx="1119.6" cy="405.7" r="1.85"/><circle cx="1127.8" cy="413.4" r="1.85"/><circle cx="1128.1" cy="409.7" r="1.85"/></g>
<path d="M440.5 155V438.5M440 438.5H1139" stroke="#808080" stroke-width="1" fill="none"/>
<path d="M1139.5 154V439" stroke="#000" stroke-width="1" fill="none"/>
<path d="M440 182.5H445M440 214.5H445M440 246.5H445M440 278.5H445M440 310.5H445M440 342.5H445M440 374.5H445M440 406.5H445M440 438.5H445M1139 154.5H1144M1139 178.5H1144M1139 202.5H1144M1139 225.5H1144M1139 249.5H1144M1139 272.5H1144M1139 296.5H1144M1139 320.5H1144M1139 343.5H1144M1139 367.5H1144M1139 391.5H1144M1139 414.5H1144M1139 438.5H1144M603.5 438V441M778.5 438V441M953.5 438V441M1128.5 438V441" stroke="#000" stroke-width="1" fill="none"/>
<text x="437.5" y="186.1" text-anchor="end">1.40</text>
<text x="437.5" y="218.1" text-anchor="end">1.35</text>
<text x="437.5" y="250.1" text-anchor="end">1.30</text>
<text x="437.5" y="282.1" text-anchor="end">1.25</text>
<text x="437.5" y="314.1" text-anchor="end">1.20</text>
<text x="437.5" y="346.1" text-anchor="end">1.15</text>
<text x="437.5" y="378" text-anchor="end">1.10</text>
<text x="437.5" y="410" text-anchor="end">1.05</text>
<text x="437.5" y="442" text-anchor="end">1.00</text>
<text x="1147" y="158.5">4000</text>
<text x="1147" y="182.1">3000</text>
<text x="1147" y="205.7">2000</text>
<text x="1147" y="229.3">1000</text>
<text x="1147" y="252.9">0</text>
<text x="1147" y="276.6">-1000</text>
<text x="1147" y="300.2">-2000</text>
<text x="1147" y="323.8">-3000</text>
<text x="1147" y="347.4">-4000</text>
<text x="1147" y="371">-5000</text>
<text x="1147" y="394.6">-6000</text>
<text x="1147" y="418.2">-7000</text>
<text x="1147" y="441.8">-8000</text>
<text transform="translate(603.8 449) rotate(-45)" text-anchor="end">2014</text>
<text transform="translate(778.9 449) rotate(-45)" text-anchor="end">2015</text>
<text transform="translate(954.1 449) rotate(-45)" text-anchor="end">2016</text>
<text transform="translate(1129.2 449) rotate(-45)" text-anchor="end">2017</text>
<path d="M445 162.5H461" stroke="#000" stroke-width="1"/>
<text x="464.5" y="166">Closing Price: 1.075</text>
<rect x="584.5" y="158.5" width="15" height="8" fill="#666699" stroke="#000" stroke-width="1"/>
<text x="603.5" y="166">Equity: -716</text>
<rect x="685.5" y="158.5" width="15" height="8" fill="#ff3232" stroke="#000" stroke-width="1"/>
<text x="704.3" y="166">DD: -2613</text>
<path d="M777 162.5H793" stroke="#ff3232" stroke-width="1.8"/><circle cx="784.7" cy="162.5" r="1.9" fill="#ff3232" stroke="#000" stroke-width="1"/>
<text x="796.4" y="166">Loss</text>
<path d="M845 162.5H861" stroke="#19ff19" stroke-width="1.8"/><circle cx="852.7" cy="162.5" r="1.9" fill="#19ff19" stroke="#000" stroke-width="1"/>
<text x="863.8" y="166">Win</text>
<text x="1137.5" y="178" text-anchor="end">Zorro Trading Automaton - Z12_EURUSD</text>
</svg>
</body></html>
